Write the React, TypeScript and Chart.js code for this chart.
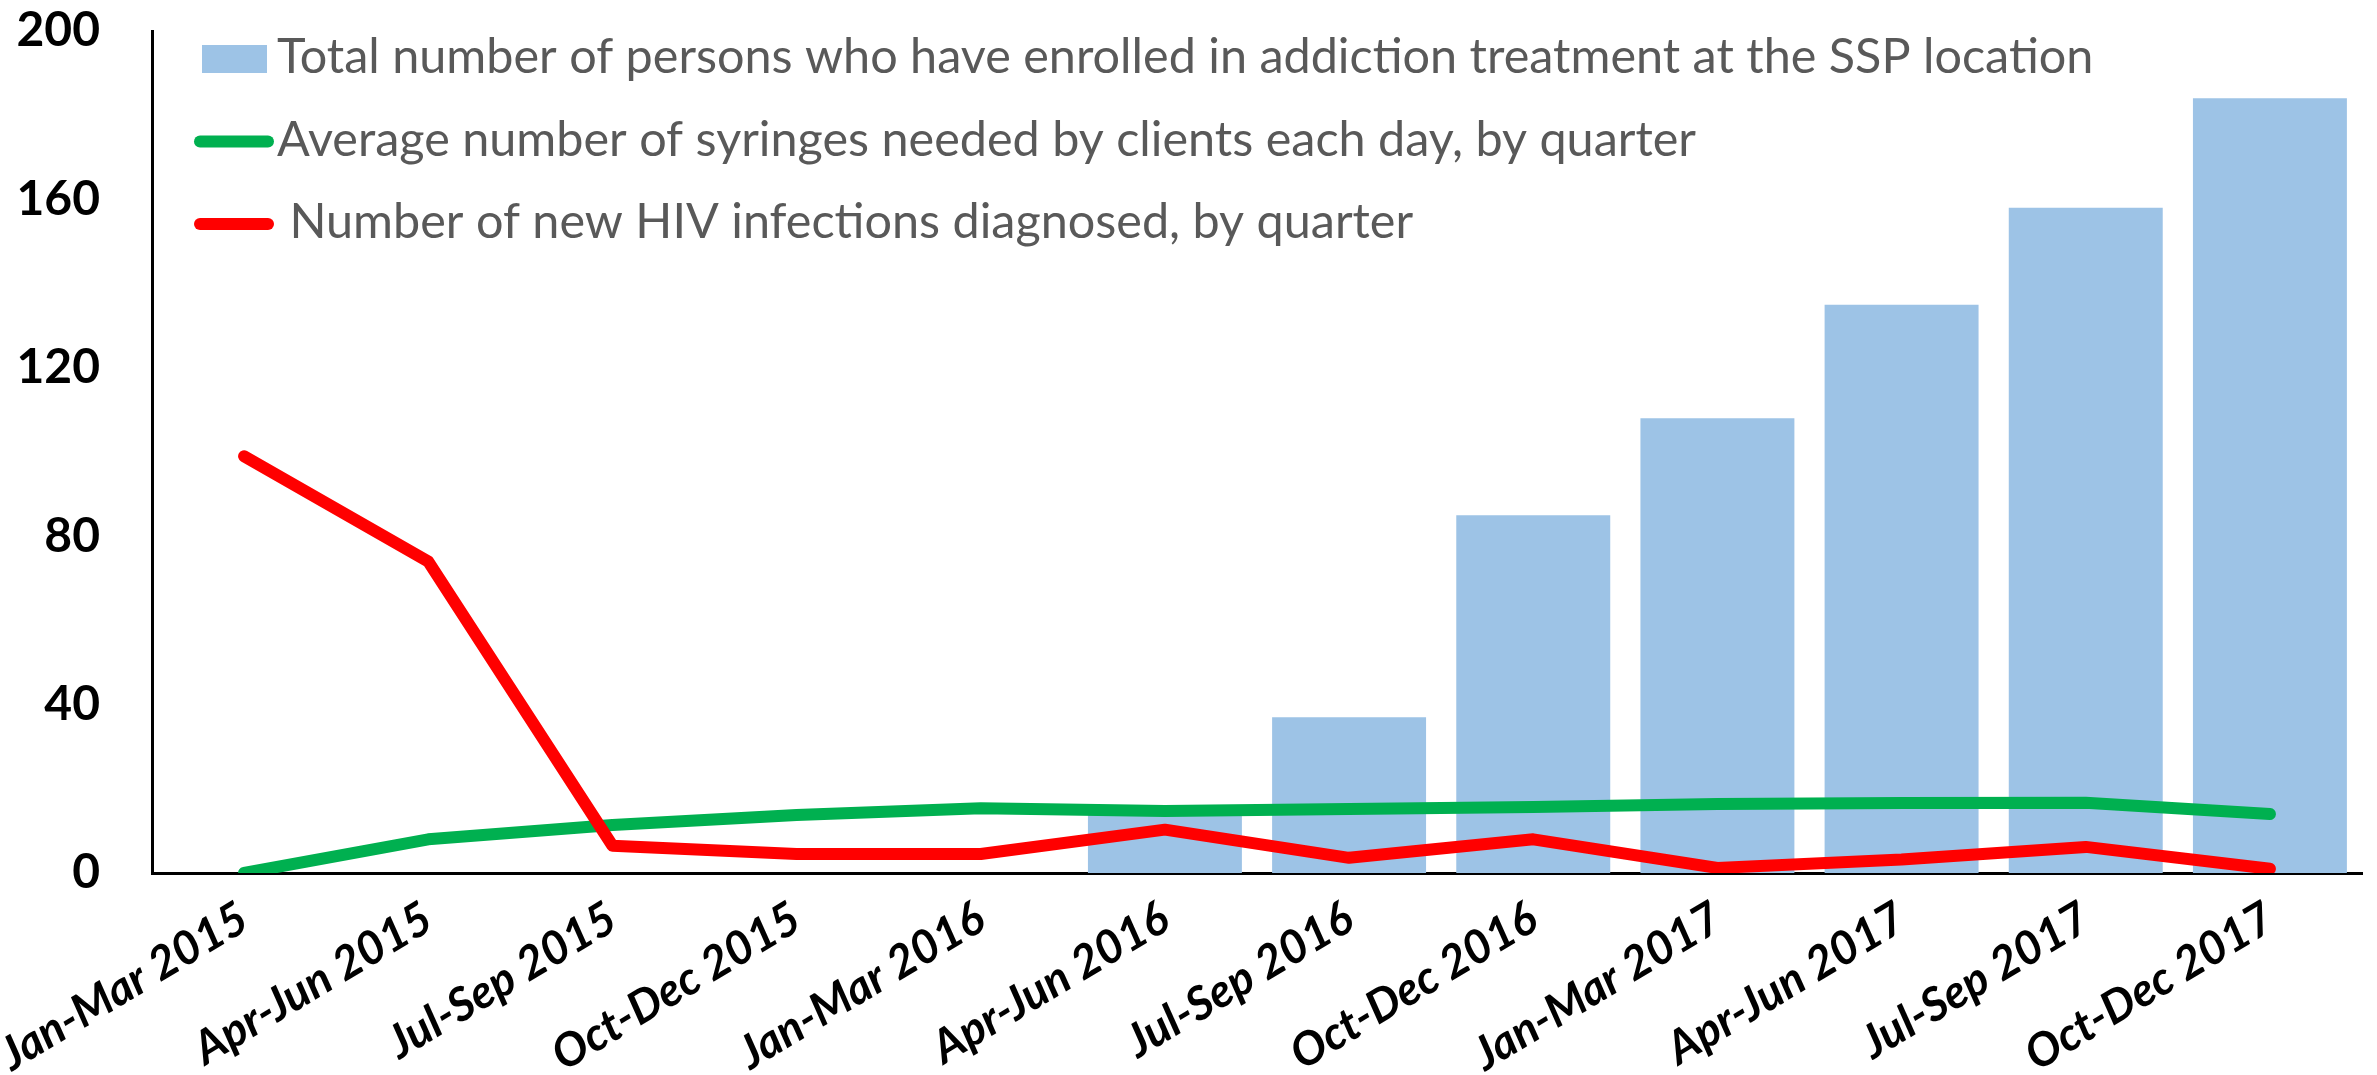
import React, { useEffect, useRef } from "react";
import { Chart, registerables } from "chart.js";

Chart.register(...registerables);

const QUARTERS = [
  "Jan-Mar 2015",
  "Apr-Jun 2015",
  "Jul-Sep 2015",
  "Oct-Dec 2015",
  "Jan-Mar 2016",
  "Apr-Jun 2016",
  "Jul-Sep 2016",
  "Oct-Dec 2016",
  "Jan-Mar 2017",
  "Apr-Jun 2017",
  "Jul-Sep 2017",
  "Oct-Dec 2017",
];

const ENROLLED = [null, null, null, null, null, 14, 37, 85, 108, 135, 158, 184];
const SYRINGES = [0, 8, 11.4, 13.8, 15.4, 14.7, 15.2, 15.7, 16.4, 16.6, 16.7, 14];
const HIV_NEW = [99, 74, 6.5, 4.5, 4.5, 10.3, 3.6, 8, 1.2, 3.2, 6.2, 1];
const Y_TICKS = [0, 40, 80, 120, 160, 200];

const LABEL_ENROLLED =
  "Total number of persons who have enrolled in addiction treatment at the SSP location";
const LABEL_SYRINGES =
  "Average number of syringes needed by clients each day, by quarter";
const LABEL_HIV = " Number of new HIV infections diagnosed, by quarter";

const BLUE = "#9DC3E6";
const GREEN = "#00B050";
const RED = "#FF0000";

const insideLegend = {
  id: "insideLegend",
  afterDraw(chart: any) {
    const { ctx } = chart;
    const dss = chart.data.datasets;
    ctx.save();
    ctx.font = "400 100px Lato";
    const w = ctx.measureText(dss[0].label).width;
    const size = (100 * 1817) / w;
    ctx.font = `400 ${size}px Lato`;
    ctx.textBaseline = "alphabetic";
    dss.forEach((ds: any, i: number) => {
      const base = 73 + 82.5 * i;
      const mid = base - 14;
      if (ds.type === "bar") {
        ctx.fillStyle = ds.backgroundColor;
        ctx.fillRect(202, mid - 14, 65, 28);
      } else {
        ctx.strokeStyle = ds.borderColor;
        ctx.lineWidth = 12;
        ctx.lineCap = "round";
        ctx.beginPath();
        ctx.moveTo(200, mid);
        ctx.lineTo(268, mid);
        ctx.stroke();
      }
      ctx.fillStyle = "#595959";
      ctx.fillText(ds.label, 277, base);
    });
    ctx.restore();
  },
};

export default function App() {
  const ref = useRef<HTMLCanvasElement | null>(null);

  useEffect(() => {
    if (!ref.current) return;
    const chart = new Chart(ref.current, {
      type: "bar",
      data: {
        labels: QUARTERS,
        datasets: [
          {
            type: "bar",
            label: LABEL_ENROLLED,
            data: ENROLLED as any,
            backgroundColor: BLUE,
            borderWidth: 0,
            barPercentage: 0.836,
            categoryPercentage: 1,
            order: 2,
          },
          {
            type: "line",
            label: LABEL_SYRINGES,
            data: SYRINGES,
            borderColor: GREEN,
            backgroundColor: GREEN,
            borderWidth: 12,
            borderCapStyle: "round",
            borderJoinStyle: "round",
            pointRadius: 0,
            tension: 0,
            order: 1,
          },
          {
            type: "line",
            label: LABEL_HIV,
            data: HIV_NEW,
            borderColor: RED,
            backgroundColor: RED,
            borderWidth: 12,
            borderCapStyle: "round",
            borderJoinStyle: "round",
            pointRadius: 0,
            tension: 0,
            order: 0,
          },
        ] as any,
      },
      options: {
        responsive: false,
        animation: false,
        devicePixelRatio: 1,
        layout: { padding: { left: 0, right: 15, top: 31, bottom: 0 } },
        plugins: {
          legend: { display: false },
          tooltip: { enabled: false },
        },
        scales: {
          x: {
            type: "category",
            offset: true,
            grid: { display: false, drawTicks: false },
            border: { display: true, color: "#000", width: 3 },
            ticks: {
              autoSkip: false,
              maxRotation: 31,
              minRotation: 31,
              padding: 18,
              color: "#000",
              font: { family: "Lato", weight: "bold", style: "italic", size: 46 },
            },
            afterFit: (s: any) => {
              s.height = 202;
              s.paddingLeft = 0;
              s.paddingRight = 0;
            },
          },
          y: {
            min: 0,
            max: 200,
            grid: { display: false, drawTicks: false },
            border: { display: true, color: "#000", width: 3 },
            afterBuildTicks: (s: any) => {
              s.ticks = Y_TICKS.map((v) => ({ value: v }));
            },
            ticks: {
              padding: 52,
              color: "#000",
              font: { family: "Lato", weight: "bold", size: 48 },
            },
            afterFit: (s: any) => {
              s.width = 152;
              s.paddingTop = 0;
              s.paddingBottom = 0;
            },
          },
        },
      },
      plugins: [insideLegend],
    });
    return () => chart.destroy();
  }, []);

  return (
    <div
      style={{
        position: "fixed",
        left: 0,
        top: 0,
        width: 2377,
        height: 1075,
        background: "#fff",
      }}
    >
      <canvas ref={ref} width={2377} height={1075} style={{ display: "block" }} />
    </div>
  );
}
